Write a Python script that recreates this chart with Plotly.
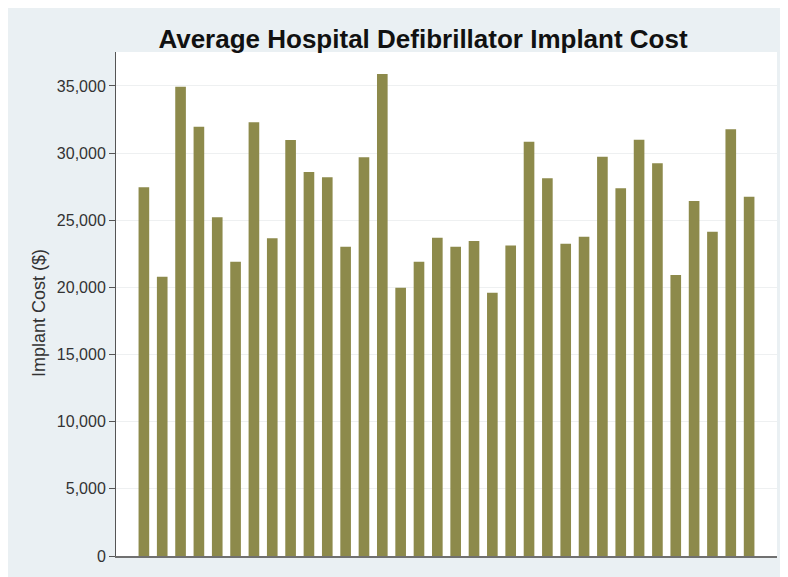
import plotly.graph_objects as go

# Data
hospitals = list(range(1, 35))
implant_cost = [
    27450, 20790, 34950, 31970, 25220, 21910, 32300, 23670, 30980, 28590,
    28200, 23030, 29690, 35900, 19970, 21910, 23700, 23030, 23450, 19600,
    23130, 30850, 28120, 23250, 23770, 29730, 27380, 31000, 29240, 20920,
    26430, 24140, 31770, 26750,
]
y_ticks = [0, 5000, 10000, 15000, 20000, 25000, 30000, 35000]

OFF = 8  # page body margin
W, H = 780, 569
L, T = 116 - OFF, 52 - OFF
R = W - (777 - OFF)
B = H - (556 - OFF)
pw, ph = W - L - R, H - T - B


def px_x(x_page):
    return (x_page - OFF - L) / pw


def px_y(y_page):
    return (H - B - (y_page - OFF)) / ph


fig = go.Figure(
    go.Bar(
        x=hospitals,
        y=implant_cost,
        marker=dict(color="#8D8A4B", line=dict(width=0)),
        hoverinfo="y",
    )
)

fig.update_layout(
    width=W,
    height=H,
    margin=dict(l=L, r=R, t=T, b=B),
    paper_bgcolor="#EAF0F3",
    plot_bgcolor="white",
    bargap=0.42,
    showlegend=False,
    title=dict(
        text="<b>Average Hospital Defibrillator Implant Cost</b>",
        font=dict(family="Liberation Sans", size=26, color="#111111"),
        x=(423 - OFF) / W,
        xanchor="center",
        xref="container",
        y=1 - (39 - OFF) / H,
        yanchor="middle",
        yref="container",
    ),
    annotations=[
        dict(
            text="Implant Cost ($)",
            xref="paper", yref="paper",
            x=px_x(39), y=px_y(313),
            xanchor="center", yanchor="middle",
            textangle=-90, showarrow=False,
            font=dict(family="Liberation Sans", size=18, color="#333333"),
        )
    ],
)

fig.update_xaxes(
    range=[-0.52, 35.52],
    showticklabels=False,
    ticks="",
    showgrid=False,
    zeroline=False,
    showline=True,
    linecolor="#707070",
    linewidth=2,
)

fig.update_yaxes(
    range=[0, 37530],
    tickvals=y_ticks,
    tickformat=",",
    ticks="outside",
    ticklen=6,
    tickcolor="#555555",
    tickfont=dict(family="Liberation Sans", size=16, color="#333333"),
    showgrid=True,
    gridcolor="#EEF0F1",
    gridwidth=1,
    zeroline=False,
    showline=True,
    linecolor="#555555",
    linewidth=1,
)

fig.write_html("out.html")
